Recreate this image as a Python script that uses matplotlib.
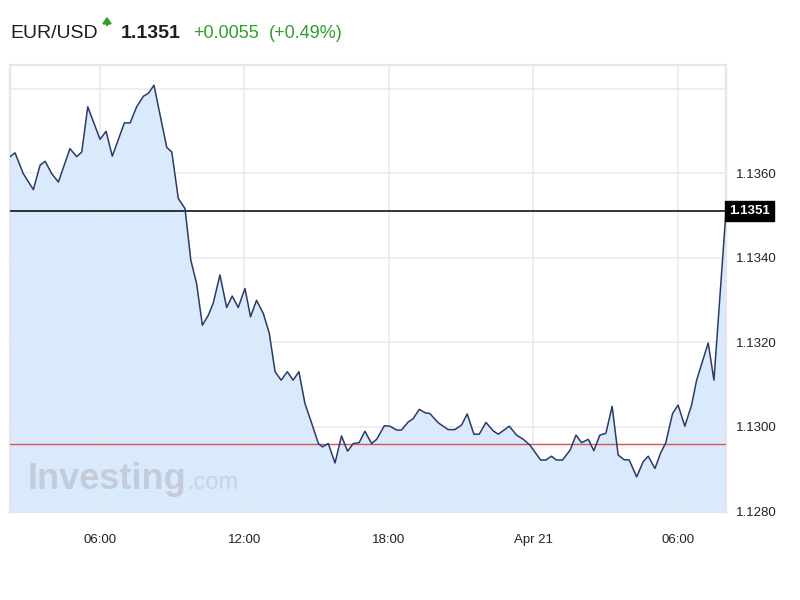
#!/usr/bin/env python3
#EUR/USD intraday area chart, investing.com style
import matplotlib
matplotlib.use('Agg')
import matplotlib.pyplot as plt

plt.rcParams['font.family'] = ['Liberation Sans', 'DejaVu Sans']

#Hours counted from Apr 20 00:00
hours = [2.26, 2.47, 2.81, 3.23, 3.51, 3.72, 3.99, 4.27, 4.75, 5.03,
	5.24, 5.49, 6.00, 6.25, 6.51, 7.01, 7.25, 7.52, 7.80, 8.01,
	8.24, 8.77, 8.98, 9.25, 9.53, 9.77, 10.01, 10.25, 10.50, 10.70,
	10.98, 11.26, 11.49, 11.74, 12.02, 12.25, 12.50, 12.78, 13.03, 13.27,
	13.52, 13.78, 14.02, 14.26, 14.51, 14.79, 15.07, 15.24, 15.48, 15.76,
	16.03, 16.28, 16.52, 16.76, 17.00, 17.28, 17.49, 17.81, 18.04, 18.32,
	18.52, 18.80, 19.01, 19.26, 19.50, 19.70, 20.05, 20.46, 20.74, 21.02,
	21.25, 21.53, 21.75, 22.03, 22.33, 22.54, 23.00, 23.30, 23.58, 23.86,
	24.30, 24.52, 24.75, 24.96, 25.21, 25.52, 25.77, 26.00, 26.28, 26.51,
	26.76, 27.01, 27.27, 27.52, 27.76, 27.98, 28.29, 28.56, 28.77, 29.05,
	29.28, 29.50, 29.78, 30.01, 30.29, 30.57, 30.78, 31.26, 31.50, 32.00]

prices = [1.13639, 1.13648, 1.13599, 1.13561, 1.13619, 1.13628, 1.13599, 1.13579, 1.13658, 1.13639,
	1.13650, 1.13757, 1.13680, 1.13699, 1.13640, 1.13719, 1.13719, 1.13757, 1.13782, 1.13789,
	1.13808, 1.13661, 1.13650, 1.13540, 1.13516, 1.13394, 1.13339, 1.13240, 1.13264, 1.13292,
	1.13359, 1.13282, 1.13309, 1.13282, 1.13327, 1.13260, 1.13299, 1.13268, 1.13221, 1.13130,
	1.13110, 1.13130, 1.13110, 1.13130, 1.13055, 1.13008, 1.12960, 1.12952, 1.12960, 1.12914,
	1.12978, 1.12942, 1.12960, 1.12962, 1.12989, 1.12960, 1.12970, 1.13002, 1.13001, 1.12992,
	1.12992, 1.13011, 1.13019, 1.13041, 1.13033, 1.13031, 1.13009, 1.12993, 1.12993, 1.13004,
	1.13030, 1.12982, 1.12982, 1.13010, 1.12990, 1.12982, 1.13001, 1.12980, 1.12970, 1.12956,
	1.12921, 1.12921, 1.12930, 1.12921, 1.12921, 1.12944, 1.12980, 1.12962, 1.12970, 1.12943,
	1.12980, 1.12984, 1.13048, 1.12933, 1.12922, 1.12921, 1.12881, 1.12917, 1.12930, 1.12901,
	1.12937, 1.12962, 1.13031, 1.13051, 1.13001, 1.13051, 1.13110, 1.13198, 1.13110, 1.13510]

last_price = 1.1351
prev_close = 1.1296
change = '+0.0055'
change_pct = '(+0.49%)'

x_ticks = [6, 12, 18, 24, 30]
x_labels = ['06:00', '12:00', '18:00', 'Apr 21', '06:00']
y_ticks = [1.1280, 1.1300, 1.1320, 1.1340, 1.1360, 1.1380]
y_labels = ['1.1280', '1.1300', '1.1320', '1.1340', '1.1360', '']

#Colours
grid_col = '#e4e6ee'
fill_col = '#d9eafc'
line_col = '#2b3a67'
green = '#2e9e2e'

fig = plt.figure(figsize=(8, 6), dpi=100)
ax = fig.add_axes([0.0125, 0.1467, 0.895, 0.745])

ymin, ymax = 1.12798, 1.13856
ax.set_xlim(2.26, 32.0)
ax.set_ylim(ymin, ymax)

#area and line
ax.fill_between(hours, prices, ymin, color=fill_col, lw=0, zorder=1)
ax.plot(hours, prices, color=line_col, lw=1.1, zorder=4)

#previous close and last price lines
ax.axhline(prev_close, color='#d9534f', lw=1.0, zorder=3)
ax.axhline(last_price, color='black', lw=1.1, zorder=3)

#grid
ax.set_xticks(x_ticks)
ax.set_xticklabels(x_labels)
ax.set_yticks(y_ticks)
ax.set_yticklabels(y_labels)
ax.grid(True, color=grid_col, lw=1.2, alpha=0.8, zorder=2)
ax.set_axisbelow(False)
ax.yaxis.tick_right()
ax.tick_params(axis='both', length=0, labelsize=9.5, colors='#222222')
ax.tick_params(axis='y', pad=7)
ax.tick_params(axis='x', pad=16)
for s in ax.spines.values():
	s.set_color(grid_col)
	s.set_linewidth(1.6)

#last price box on the right axis
ax.text(1.004, last_price, '1.1351', transform=ax.get_yaxis_transform(),
	color='white', fontsize=9.5, fontweight='bold', va='center', ha='left',
	bbox=dict(boxstyle='square,pad=0.3', fc='black', ec='black'), zorder=6)

#watermark, ".com" placed right after the word
wm = ax.text(0.024, 0.052, 'Investing', transform=ax.transAxes,
	fontsize=26, fontweight='bold', color='#c3ccd8', va='baseline', ha='left', zorder=2)
fig.canvas.draw()
bb = wm.get_window_extent().transformed(ax.transAxes.inverted())
ax.text(bb.x1 + 0.003, 0.052, '.com', transform=ax.transAxes,
	fontsize=17, color='#c9d3df', va='baseline', ha='left', zorder=2)

#title row
ty = 1 - 33/600
fig.text(10/800, ty, 'EUR/USD', fontsize=14, color='#1e1e1e', va='center')
ax.annotate('', xy=(107/800, 1 - 14/600), xytext=(107/800, 1 - 28/600),
	xycoords='figure fraction', textcoords='figure fraction',
	arrowprops=dict(arrowstyle='-|>,head_width=0.25,head_length=0.35', color=green, lw=1.6))
fig.text(121/800, ty, '1.1351', fontsize=14, fontweight='bold', color='#1e1e1e', va='center')
fig.text(193/800, ty, change, fontsize=13, color=green, va='center')
fig.text(269/800, ty, change_pct, fontsize=13, color=green, va='center')

plt.savefig('out.png', dpi=100)
